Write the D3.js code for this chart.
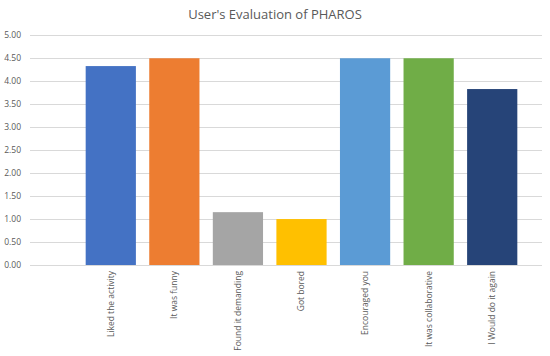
<!DOCTYPE html>
<html>
<head>
<meta charset="utf-8">
<script src="https://cdn.jsdelivr.net/npm/d3@7"></script>
<style>
  body { margin: 0; background: #fff; }
  svg text { font-family: "Open Sans", "Liberation Sans", sans-serif; fill: #595959; }
</style>
</head>
<body>
<div id="chart"></div>
<script>
// Data
const categories = ['Liked the activity', 'It was funny', 'Found it demanding', 'Got bored',
  'Encouraged you', 'It was collaborative', 'I Would do it again'];
const scores = [4.33, 4.5, 1.15, 1.0, 4.5, 4.5, 3.83];
const barColours = ['#4472C4', '#ED7D31', '#A5A5A5', '#FFC000', '#5B9BD5', '#70AD47', '#264478'];
const yTicks = [0, 0.5, 1, 1.5, 2, 2.5, 3, 3.5, 4, 4.5, 5];

const width = 550;
const height = 356;

const svg = d3.select('#chart').append('svg')
  .attr('width', width)
  .attr('height', height);

const x = d3.scaleBand()
  .domain(categories)
  .range([79, 524])
  .paddingInner(0.21)
  .paddingOuter(0.105);

const y = d3.scaleLinear()
  .domain([0, 5])
  .range([265, 35.3]);

// title
svg.append('text')
  .attr('x', 275)
  .attr('y', 19)
  .attr('text-anchor', 'middle')
  .style('font-size', '13px')
  .text("User's Evaluation of PHAROS");

// gridlines
svg.append('g').selectAll('line')
  .data(yTicks)
  .enter().append('line')
    .attr('x1', 30)
    .attr('x2', 542)
    .attr('y1', d => Math.round(y(d)) + 0.5)
    .attr('y2', d => Math.round(y(d)) + 0.5)
    .attr('stroke', '#d9d9d9')
    .attr('stroke-width', 1);

// y labels
svg.append('g').selectAll('text')
  .data(yTicks)
  .enter().append('text')
    .attr('x', 21)
    .attr('y', d => y(d))
    .attr('dy', '0.35em')
    .attr('text-anchor', 'end')
    .style('font-size', '8.5px')
    .text(d => d3.format('.2f')(d));

// bars
svg.append('g').selectAll('rect')
  .data(categories)
  .enter().append('rect')
    .attr('x', d => x(d))
    .attr('width', x.bandwidth())
    .attr('y', (d, i) => y(scores[i]))
    .attr('height', (d, i) => y(0) - y(scores[i]))
    .attr('fill', (d, i) => barColours[i]);

// x labels (rotated)
svg.append('g').selectAll('text')
  .data(categories)
  .enter().append('text')
    .attr('transform', d => `translate(${x(d) + x.bandwidth() / 2},271) rotate(-90)`)
    .attr('dy', '0.35em')
    .attr('text-anchor', 'end')
    .style('font-size', '8.5px')
    .text(d => d);
</script>
</body>
</html>
